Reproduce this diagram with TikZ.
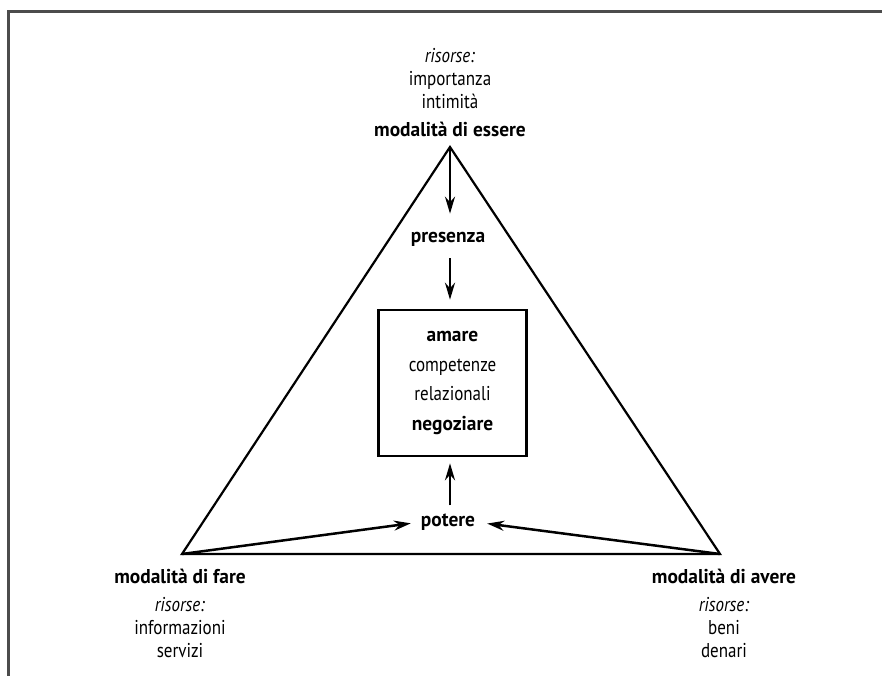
\documentclass[tikz,border=0pt]{standalone}
\usepackage{fontspec}
\setmainfont{PT Sans}[
  UprightFeatures={FakeStretch=0.85},
  ItalicFeatures={FakeStretch=0.85},
  BoldFeatures={FakeStretch=0.97}]
\usetikzlibrary{arrows.meta}
\tikzset{
  side/.style={line width=2.2pt,line join=miter},
  link/.style={line width=2.5pt,-{Stealth[length=17pt,width=10pt]}},
  lbl/.style={align=center,inner sep=0pt,font=\fontsize{20}{23}\selectfont},
  core/.style={draw,line width=2.6pt,minimum width=148pt,minimum height=146pt,
    align=center,inner sep=0pt,font=\fontsize{20}{29.5}\selectfont},
}
\begin{document}
\begin{tikzpicture}[x=1pt,y=-1pt]
  \useasboundingbox (0,0) rectangle (882,676);

  % Frame
  \draw[line width=3pt,black!70] (8,676) -- (8,12) -- (882,12);

  % Corners of the triangle
  \coordinate (essere) at (450,147);
  \coordinate (fare) at (182,554);
  \coordinate (avere) at (720,554);
  \draw[side] (essere) -- (fare) -- (avere) -- cycle;

  % Corner labels
  \node[lbl,anchor=south] (essereLbl) at (450,137)
    {\textit{risorse:}\\importanza\\intimità\\[5pt]\textbf{modalità di essere}};
  \node[lbl,anchor=north] (fareLbl) at (180,569)
    {\textbf{modalità di fare}\\[5pt]\textit{risorse:}\\informazioni\\servizi};
  \node[lbl,anchor=north] (avereLbl) at (724,569)
    {\textbf{modalità di avere}\\[5pt]\textit{risorse:}\\beni\\denari};

  % Inner nodes
  \node[lbl,font=\fontsize{20}{23}\bfseries] (presenza) at (448,239) {presenza};
  \node[core] (centro) at (452.5,383)
    {\textbf{amare}\\competenze\\relazionali\\\textbf{negoziare}};
  \node[lbl,font=\fontsize{20}{23}\bfseries] (potere) at (448,522) {potere};

  % Arrows
  \draw[link,shorten <=2pt,shorten >=18pt] (essere) -- (essere |- presenza.north);
  \draw[link,shorten <=12pt,shorten >=9pt] (essere |- presenza.south) -- (essere |- centro.north);
  \draw[link,shorten <=8pt,shorten >=6pt] (essere |- potere.north) -- (essere |- centro.south);
  \draw[link,shorten >=10pt] (fare) -- (potere.west);
  \draw[link,shorten >=12pt] (avere) -- (potere.east);
\end{tikzpicture}
\end{document}
